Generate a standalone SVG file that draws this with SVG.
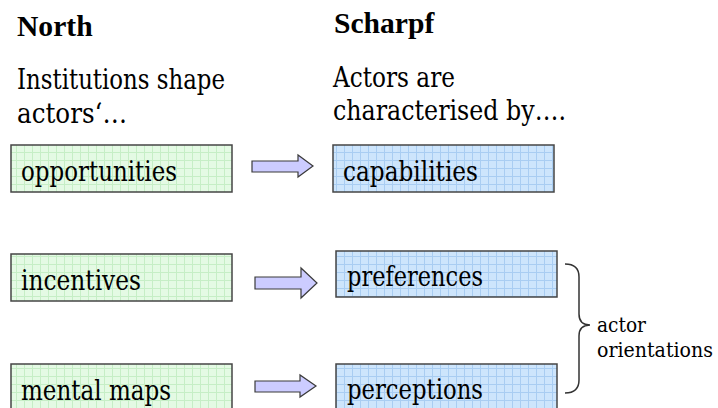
<svg xmlns="http://www.w3.org/2000/svg" width="718" height="408" viewBox="0 0 718 408">
  <defs>
    <pattern id="gridGreen" patternUnits="userSpaceOnUse" width="8" height="8">
      <rect width="8" height="8" fill="#e4fae4"/>
      <path d="M0 0.5H8M0.5 0V8" stroke="#c6eec6" stroke-width="1" fill="none"/>
    </pattern>
    <pattern id="gridBlue" patternUnits="userSpaceOnUse" width="8" height="8">
      <rect width="8" height="8" fill="#cde5fc"/>
      <path d="M0 0.5H8M0.5 0V8" stroke="#a9cdf2" stroke-width="1" fill="none"/>
    </pattern>
    <style>
      .head { font-family: "Liberation Serif", serif; font-size: 29.6px; font-weight: 700; fill: #000; }
      .txt { font-family: "DejaVu Serif", serif; font-size: 28px; fill: #000; }
      .note { font-family: "DejaVu Serif", serif; font-size: 19.5px; fill: #000; }
      .green { fill: url(#gridGreen); stroke: #454545; stroke-width: 1.5; }
      .blue { fill: url(#gridBlue); stroke: #454545; stroke-width: 1.5; }
      .arrow { fill: #ccccff; stroke: #3a3a3a; stroke-width: 1.2; stroke-linejoin: miter; }
      .brace { fill: none; stroke: #333; stroke-width: 1.5; }
    </style>
  </defs>

  <!-- column headings -->
  <g id="north-heading">
    <text class="head" x="17" y="36">North</text>
    <text class="txt" x="17" y="89" textLength="208" lengthAdjust="spacingAndGlyphs">Institutions shape</text>
    <text class="txt" x="17" y="123" textLength="110" lengthAdjust="spacingAndGlyphs">actors‘…</text>
  </g>
  <g id="scharpf-heading">
    <text class="head" x="334" y="33">Scharpf</text>
    <text class="txt" x="333" y="87" textLength="122" lengthAdjust="spacingAndGlyphs">Actors are</text>
    <text class="txt" x="333" y="120" textLength="233" lengthAdjust="spacingAndGlyphs">characterised by….</text>
  </g>

  <!-- North: what institutions shape -->
  <g id="opportunities">
    <rect class="green" x="11" y="145" width="221" height="47"/>
    <text class="txt" x="21" y="181" textLength="156" lengthAdjust="spacingAndGlyphs">opportunities</text>
  </g>
  <g id="incentives">
    <rect class="green" x="11" y="254" width="221" height="47"/>
    <text class="txt" x="21" y="290" textLength="120" lengthAdjust="spacingAndGlyphs">incentives</text>
  </g>
  <g id="mental-maps">
    <rect class="green" x="11" y="364" width="221" height="60"/>
    <text class="txt" x="21" y="400" textLength="150" lengthAdjust="spacingAndGlyphs">mental maps</text>
  </g>

  <!-- Scharpf: what actors are characterised by -->
  <g id="capabilities">
    <rect class="blue" x="333" y="145" width="221" height="47"/>
    <text class="txt" x="343" y="181" textLength="135" lengthAdjust="spacingAndGlyphs">capabilities</text>
  </g>
  <g id="preferences">
    <rect class="blue" x="336" y="251" width="221" height="46"/>
    <text class="txt" x="347" y="286" textLength="136" lengthAdjust="spacingAndGlyphs">preferences</text>
  </g>
  <g id="perceptions">
    <rect class="blue" x="336" y="364" width="221" height="60"/>
    <text class="txt" x="347" y="399" textLength="136" lengthAdjust="spacingAndGlyphs">perceptions</text>
  </g>

  <!-- block arrows between the columns -->
  <g id="connectors">
    <polygon class="arrow" points="252,161 298,161 298,155 313,166 298,177 298,172 252,172"/>
    <polygon class="arrow" points="255,277 301,277 301,268 317,283 301,298 301,289 255,289"/>
    <polygon class="arrow" points="255,381 300,381 300,375 316,386 300,397 300,392 255,392"/>
  </g>

  <!-- brace grouping preferences and perceptions -->
  <g id="actor-orientations">
    <path class="brace" d="M565,264 Q579,264 579,277 L579,314 Q579,325 590,325 Q579,325 579,336 L579,380 Q579,393 565,393"/>
    <text class="note" x="597" y="332" textLength="49" lengthAdjust="spacingAndGlyphs">actor</text>
    <text class="note" x="597" y="357" textLength="116" lengthAdjust="spacingAndGlyphs">orientations</text>
  </g>
</svg>
